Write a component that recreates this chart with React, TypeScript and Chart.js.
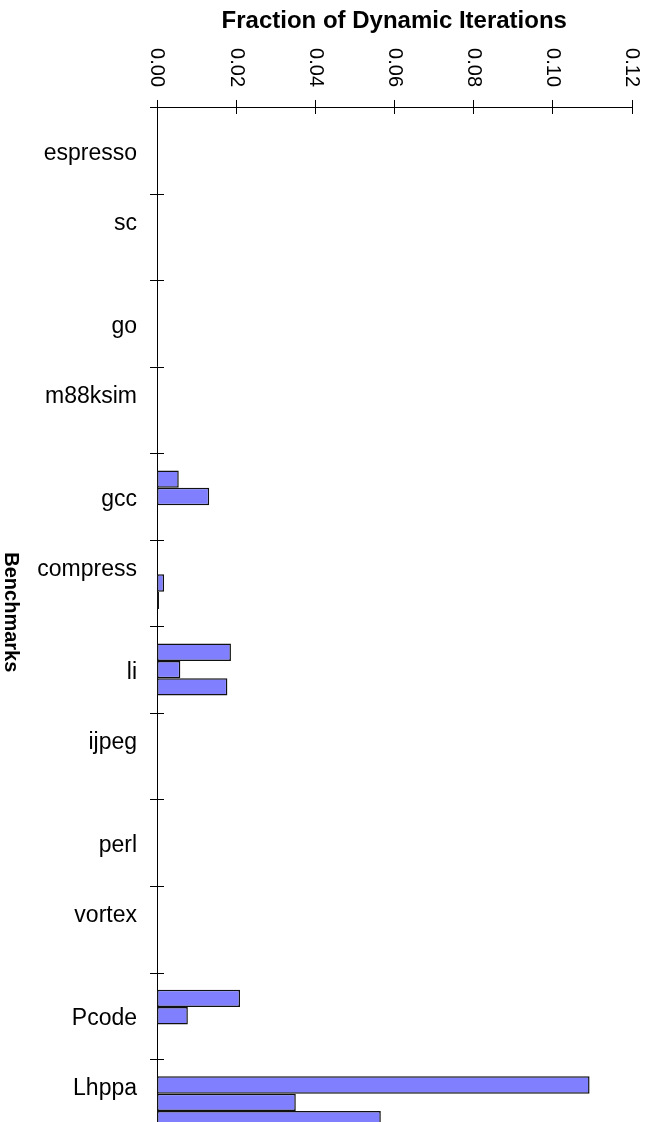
import React, { useEffect, useRef } from 'react';
import { Chart, registerables } from 'chart.js';

Chart.register(...registerables);

// ---- Data ----
const categories = ['espresso', 'sc', 'go', 'm88ksim', 'gcc', 'compress', 'li', 'ijpeg', 'perl', 'vortex', 'Pcode', 'Lhppa'];
const series1 = [0, 0, 0, 0, 0.0055, 0, 0.0187, 0, 0, 0, 0.021, 0.1094];
const series2 = [0, 0, 0, 0, 0.0132, 0.0018, 0.0059, 0, 0, 0, 0.0078, 0.0351];
const series3 = [0, 0, 0, 0, 0, 0.0005, 0.0178, 0, 0, 0, 0, 0.0566];
const xMin = 0;
const xMax = 0.12;
const xStep = 0.02;
const xTitle = 'Fraction of Dynamic Iterations';
const yTitle = 'Benchmarks';

const FONT = "'Liberation Sans', Arial, sans-serif";
const BAR_FILL = '#8080ff';
const BAR_BORDER = '#111111';

const CANVAS_W = 651;
const CANVAS_H = 1160;

// staggered category labels (every second label sits one half-line higher)
const labels = categories.map((c, i) => (i % 2 === 1 ? [c, ''] : c));

const axisDecor = {
  id: 'axisDecor',
  afterDraw(chart: any) {
    const { ctx, chartArea, scales } = chart;
    const xs = scales.x;
    const ys = scales.y;
    ctx.save();
    ctx.strokeStyle = '#000';
    ctx.lineWidth = 1;
    // crossing tick marks on x axis
    xs.ticks.forEach((t: any) => {
      const px = Math.round(xs.getPixelForValue(t.value)) + 0.5;
      ctx.beginPath();
      ctx.moveTo(px, chartArea.top - 7);
      ctx.lineTo(px, chartArea.top + 7);
      ctx.stroke();
    });
    // crossing tick marks on y axis at category boundaries
    for (let i = 0; i <= categories.length; i++) {
      const py = Math.round(ys.getPixelForValue(i - 0.5)) + 0.5;
      ctx.beginPath();
      ctx.moveTo(chartArea.left - 7, py);
      ctx.lineTo(chartArea.left + 7, py);
      ctx.stroke();
    }
    // rotated x tick labels (reading top to bottom)
    ctx.fillStyle = '#000';
    ctx.font = `20px ${FONT}`;
    ctx.textAlign = 'right';
    ctx.textBaseline = 'middle';
    xs.ticks.forEach((t: any) => {
      const px = xs.getPixelForValue(t.value);
      ctx.save();
      ctx.translate(px, chartArea.top - 20);
      ctx.rotate(Math.PI / 2);
      ctx.fillText(String(t.label), 0, 0);
      ctx.restore();
    });
    // y axis title (reading top to bottom)
    ctx.font = `bold 20px ${FONT}`;
    ctx.textAlign = 'center';
    ctx.textBaseline = 'middle';
    ctx.save();
    ctx.translate(10.5, (chartArea.top + chartArea.bottom) / 2 - 14);
    ctx.rotate(Math.PI / 2);
    ctx.fillText(yTitle, 0, 0);
    ctx.restore();
    ctx.restore();
  },
};

export default function App() {
  const canvasRef = useRef<HTMLCanvasElement | null>(null);

  useEffect(() => {
    document.documentElement.style.overflow = 'hidden';
    const canvas = canvasRef.current;
    if (!canvas) return;
    const mkDs = (data: number[]) => ({
      data,
      backgroundColor: BAR_FILL,
      borderColor: BAR_BORDER,
      borderWidth: 1.5,
      borderSkipped: false as const,
      categoryPercentage: 0.6,
      barPercentage: 1.0,
    });
    const chart = new Chart(canvas, {
      type: 'bar',
      data: {
        labels,
        datasets: [mkDs(series1), mkDs(series2), mkDs(series3)],
      },
      options: {
        indexAxis: 'y',
        animation: false,
        responsive: false,
        maintainAspectRatio: false,
        devicePixelRatio: 1,
        layout: { padding: { left: 0, right: 19.5, top: 0, bottom: 14.4 } },
        plugins: {
          legend: { display: false },
          tooltip: { enabled: false },
          title: { display: false },
        },
        scales: {
          x: {
            type: 'linear',
            position: 'top',
            min: xMin,
            max: xMax,
            ticks: {
              display: false,
              stepSize: xStep,
              callback: (v: any) => Number(v).toFixed(2),
            },
            grid: { display: false, drawTicks: false },
            border: { display: true, color: '#000', width: 1 },
            title: {
              display: true,
              text: xTitle,
              color: '#000',
              font: { family: FONT, size: 24, weight: 'bold' },
              padding: { top: 6.5, bottom: 0 },
            },
            afterFit: (s: any) => {
              s.height = 107;
              s.paddingLeft = 0;
              s.paddingRight = 0;
            },
          },
          y: {
            type: 'category',
            ticks: {
              color: '#000',
              font: { family: FONT, size: 23, lineHeight: 1.44 },
              padding: 20,
              labelOffset: 3,
              autoSkip: false,
            },
            grid: { display: false, drawTicks: false },
            border: { display: true, color: '#000', width: 1 },
            afterFit: (s: any) => {
              s.width = 157;
              s.paddingTop = 0;
              s.paddingBottom = 0;
            },
          },
        },
      },
      plugins: [axisDecor],
    });
    return () => chart.destroy();
  }, []);

  return (
    <div
      style={{
        position: 'fixed',
        left: 0,
        top: 0,
        width: CANVAS_W,
        height: 1122,
        overflow: 'hidden',
        background: '#fff',
      }}
    >
      <canvas ref={canvasRef} width={CANVAS_W} height={CANVAS_H} style={{ display: 'block' }} />
    </div>
  );
}
